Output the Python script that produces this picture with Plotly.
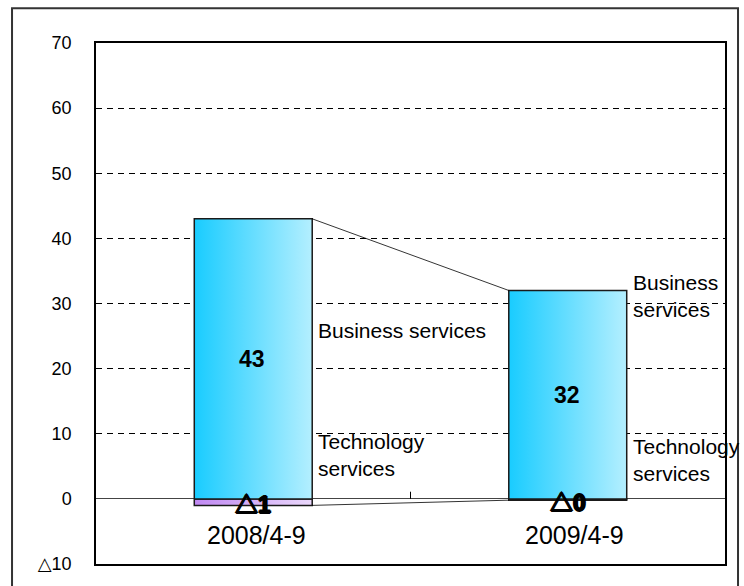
import plotly.graph_objects as go

# ---- data ----
categories = ["2008/4-9", "2009/4-9"]
business = [43, 32]
technology = [-1, -0.2]
series_names = ["Business services", "Technology services"]
y_tickvals = [-10, 0, 10, 20, 30, 40, 50, 60, 70]
y_ticktext = ["△10", "0", "10", "20", "30", "40", "50", "60", "70"]

# ---- style ----
FONT = "Liberation Sans, Arial, DejaVu Sans, sans-serif"
BOLD_FONT = "Liberation Sans, Arial, Noto Sans CJK JP, sans-serif"
THICK = "1px 0 0 #000, -1px 0 0 #000, 0 1px 0 #000, 0 -1px 0 #000"
BAR_W = 0.375
biz_scale = [[0, "#19CCFF"], [1, "#B4EFFF"]]
tech_scale = [[0, "#C088F2"], [1, "#EAD8FB"]]
OUTLINE = dict(color="#1a1a1a", width=1.5)

fig = go.Figure()
xs = list(range(len(categories)))


def rect(xc, y0, y1):
    xl, xr = xc - BAR_W / 2, xc + BAR_W / 2
    return [xl, xr, xr, xl, xl], [y0, y0, y1, y1, y0]


for i, xc in enumerate(xs):
    # technology (negative, below zero)
    rx, ry = rect(xc, 0, technology[i])
    fig.add_trace(go.Scatter(x=rx, y=ry, mode="lines", fill="toself",
                             fillgradient=dict(type="horizontal", colorscale=tech_scale),
                             line=OUTLINE, hoverinfo="skip", showlegend=False))
    # business
    rx, ry = rect(xc, 0, business[i])
    fig.add_trace(go.Scatter(x=rx, y=ry, mode="lines", fill="toself",
                             fillgradient=dict(type="horizontal", colorscale=biz_scale),
                             line=OUTLINE, hoverinfo="skip", showlegend=False))

# series lines connecting bars
for vals in (business, technology):
    fig.add_trace(go.Scatter(
        x=[xs[0] + BAR_W / 2, xs[1] - BAR_W / 2], y=[vals[0], vals[1]],
        mode="lines", line=dict(color="#000000", width=0.8),
        hoverinfo="skip", showlegend=False))

annotations = []
# value labels
for i, xc in enumerate(xs):
    annotations.append(dict(x=xc, y=business[i] / 2, text=f"<b>{business[i]}</b>",
                            showarrow=False, font=dict(family=BOLD_FONT, size=23, color="#000"),
                            xshift=-1))
    t = technology[i]
    ttxt = ("△" if t < 0 else "") + f"{abs(t):.0f}"
    annotations.append(dict(x=xc, y=t / 2, text=ttxt,
                            showarrow=False,
                            font=dict(family=BOLD_FONT, size=23, color="#000",
                                      weight="bold", shadow=THICK),
                            yshift=-3))
# category labels
cat_shift = [3, 7]
for i, xc in enumerate(xs):
    annotations.append(dict(x=xc, y=-5.5, text=categories[i], showarrow=False,
                            xshift=cat_shift[i],
                            font=dict(family=FONT, size=25, color="#000")))

# series name labels (right of each bar)
name_layout = [
    # (bar index, text, y position)
    (0, "Business services", 25.9),
    (0, "Technology<br>services", 6.8),
    (1, "Business<br>services", 31.1),
    (1, "Technology<br>services", 5.9),
]
for i, txt, ypos in name_layout:
    annotations.append(dict(x=xs[i] + BAR_W / 2, y=ypos, text=txt, showarrow=False,
                            xanchor="left", align="left", xshift=4,
                            font=dict(family=FONT, size=21, color="#000")))

shapes = [
    # small category divider tick on the zero line
    dict(type="line", xref="x", yref="y", x0=(xs[0] + xs[1]) / 2, x1=(xs[0] + xs[1]) / 2,
         y0=0, y1=1.1, line=dict(color="#000", width=1)),
    # outer chart border
    dict(type="rect", xref="paper", yref="paper", x0=-0.1335, x1=1.0207,
         y0=-0.1, y1=1.0669, line=dict(color="#333333", width=2), layer="above"),
]

fig.update_layout(
    width=744, height=586,
    margin=dict(l=96, r=19, t=43, b=20),
    paper_bgcolor="white", plot_bgcolor="white",
    showlegend=False,
    annotations=annotations,
    shapes=shapes,
    xaxis=dict(range=[-0.5, 1.5], showticklabels=False, showgrid=False, zeroline=False,
               showline=True, mirror=True, linecolor="#000", linewidth=1.5, ticks=""),
    yaxis=dict(range=[-10, 70], tickvals=y_tickvals, ticktext=y_ticktext,
               showgrid=True, gridcolor="#000", gridwidth=1, griddash="6px,5px",
               zeroline=True, zerolinecolor="#444", zerolinewidth=1,
               showline=True, mirror=True, linecolor="#000", linewidth=1.5,
               ticks="", ticklabelstandoff=19,
               tickfont=dict(family=FONT, size=18, color="#000")),
)

fig.write_html("out.html")
